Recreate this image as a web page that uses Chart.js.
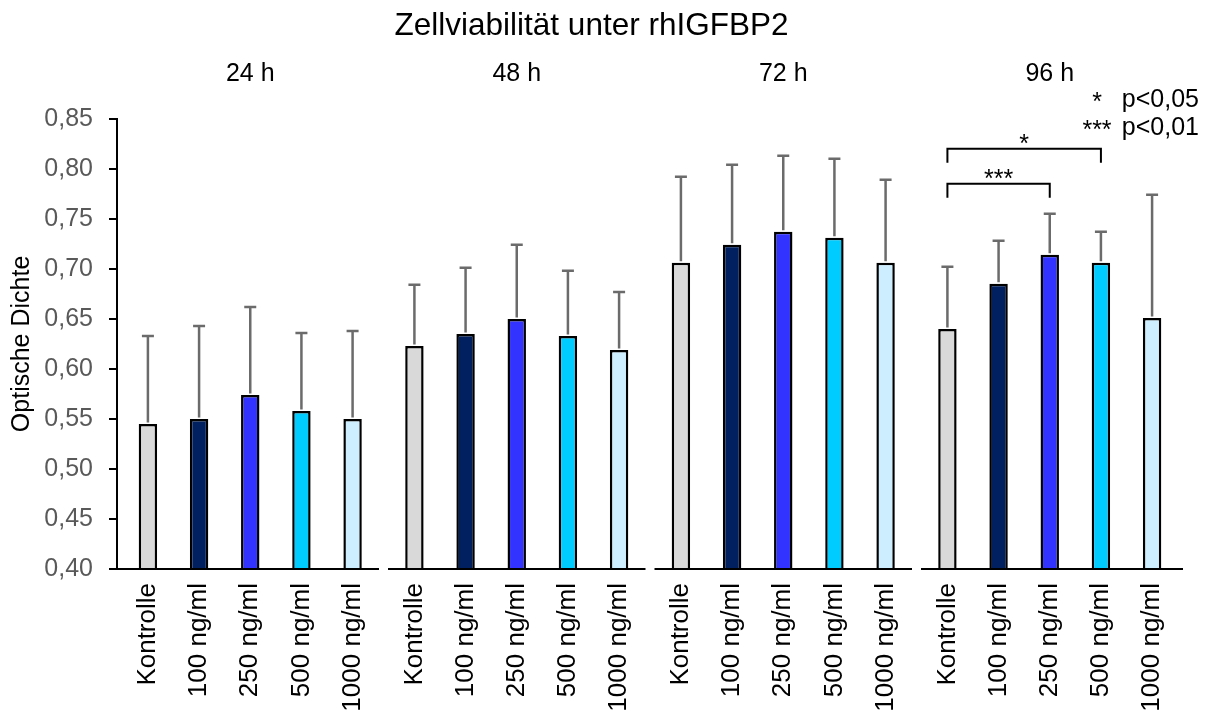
<!DOCTYPE html>
<html lang="de">
<head>
<meta charset="utf-8">
<title>Zellviabilität unter rhIGFBP2</title>
<script src="https://cdn.jsdelivr.net/npm/chart.js@4.4.1/dist/chart.umd.min.js"></script>
<style>
    html, body { margin: 0; padding: 0; background: #fff; }
    #wrap { position: relative; width: 1211px; height: 713px; }
</style>
</head>
<body>
<div id="wrap"><canvas id="viability"></canvas></div>
<script>
const timePoints = ['24 h', '48 h', '72 h', '96 h'];
const treatments = ['Kontrolle', '100 ng/ml', '250 ng/ml', '500 ng/ml', '1000 ng/ml'];
const treatmentColors = ['#d9d9d9', '#002060', '#3333ff', '#00ccff', '#cceeff'];

// mean optical density per treatment, one value per time point
const kontrolle = [0.545, 0.623, 0.706, 0.640];
const ng100 = [0.550, 0.635, 0.724, 0.685];
const ng250 = [0.574, 0.650, 0.737, 0.714];
const ng500 = [0.558, 0.633, 0.731, 0.706];
const ng1000 = [0.550, 0.619, 0.706, 0.651];

// standard deviation, drawn as upper whisker only
const sdKontrolle = [0.088, 0.061, 0.086, 0.062];
const sd100 = [0.093, 0.066, 0.080, 0.043];
const sd250 = [0.088, 0.074, 0.076, 0.041];
const sd500 = [0.078, 0.065, 0.079, 0.031];
const sd1000 = [0.088, 0.058, 0.083, 0.123];

const yMin = 0.40;
const yMax = 0.85;
const yStep = 0.05;

// significance brackets (all at 96 h): from treatment, to treatment, stars, height
const sigFrom = [0, 0];
const sigTo = [3, 2];
const sigStars = ['*', '***'];
const sigLevel = [0.820, 0.785];
const sigTime = 3;

const legendStars = ['*', '***'];
const legendText = ['p<0,05', 'p<0,01'];

const FONT = '"Liberation Sans", Arial, sans-serif';
const means = [kontrolle, ng100, ng250, ng500, ng1000];
const sds = [sdKontrolle, sd100, sd250, sd500, sd1000];

/**
 * Draws whiskers, the broken category axis, bar labels, brackets and the p legend.
 */
const decorations = {
    id: 'decorations',
    afterDatasetsDraw(chart) {
        const ctx = chart.ctx;
        const area = chart.chartArea;
        const xs = chart.scales.x;
        const ys = chart.scales.y;
        ctx.save();

        // upper error whiskers
        ctx.strokeStyle = '#6b6b6b';
        ctx.lineWidth = 2.5;
        chart.data.datasets.forEach((ds, di) => {
            chart.getDatasetMeta(di).data.forEach((bar, i) => {
                const top = ys.getPixelForValue(ds.data[i] + ds.sd[i]);
                ctx.beginPath();
                ctx.moveTo(bar.x, bar.y - 1.5);
                ctx.lineTo(bar.x, top);
                ctx.moveTo(bar.x - 6, top);
                ctx.lineTo(bar.x + 6, top);
                ctx.stroke();
            });
        });

        // x axis line, interrupted between the time points
        const slot = xs.getPixelForValue(1) - xs.getPixelForValue(0);
        const gap = 4.5;
        ctx.strokeStyle = '#000';
        ctx.lineWidth = 2;
        timePoints.forEach((t, i) => {
            const c = xs.getPixelForValue(i);
            const from = i === 0 ? area.left : c - slot / 2 + gap;
            const to = i === timePoints.length - 1 ? area.right : c + slot / 2 - gap;
            ctx.beginPath();
            ctx.moveTo(from, area.bottom);
            ctx.lineTo(to, area.bottom);
            ctx.stroke();
        });

        // treatment labels under every bar, rotated
        ctx.fillStyle = '#000';
        ctx.font = '26px ' + FONT;
        ctx.textAlign = 'right';
        ctx.textBaseline = 'middle';
        chart.data.datasets.forEach((ds, di) => {
            chart.getDatasetMeta(di).data.forEach((bar) => {
                ctx.save();
                ctx.translate(bar.x, area.bottom + 14);
                ctx.rotate(-Math.PI / 2);
                ctx.fillText(ds.label, 0, 0);
                ctx.restore();
            });
        });

        // significance brackets
        ctx.textAlign = 'center';
        ctx.textBaseline = 'alphabetic';
        ctx.font = '25px ' + FONT;
        sigFrom.forEach((f, k) => {
            const x1 = chart.getDatasetMeta(f).data[sigTime].x;
            const x2 = chart.getDatasetMeta(sigTo[k]).data[sigTime].x;
            const yl = ys.getPixelForValue(sigLevel[k]);
            ctx.beginPath();
            ctx.moveTo(x1, yl + 14);
            ctx.lineTo(x1, yl);
            ctx.lineTo(x2, yl);
            ctx.lineTo(x2, yl + 14);
            ctx.stroke();
            ctx.fillText(sigStars[k], (x1 + x2) / 2, yl + 3);
        });

        // p value legend, top right
        const right = chart.width - 12;
        legendText.forEach((txt, k) => {
            const base = 107 + k * 28;
            ctx.textAlign = 'right';
            ctx.fillText(txt, right, base);
            ctx.textAlign = 'center';
            ctx.fillText(legendStars[k], right - 102, base + 3);
        });

        ctx.restore();
    }
};

new Chart(document.getElementById('viability'), {
    type: 'bar',
    data: {
        labels: timePoints,
        datasets: treatments.map((t, i) => ({
            label: t,
            data: means[i],
            sd: sds[i],
            base: yMin,
            backgroundColor: treatmentColors[i],
            borderColor: '#000',
            borderWidth: 2.5,
            borderSkipped: 'start',
            categoryPercentage: 0.96,
            barPercentage: 0.36
        }))
    },
    options: {
        responsive: true,
        maintainAspectRatio: false,
        animation: false,
        layout: {
            padding: { left: 0, right: 28, top: 0, bottom: 144 }
        },
        plugins: {
            legend: { display: false },
            tooltip: { enabled: false },
            title: {
                display: true,
                text: 'Zellviabilität unter rhIGFBP2',
                color: '#000',
                font: { family: FONT, size: 31.5, weight: 'normal' },
                padding: { top: 7, bottom: 0 }
            }
        },
        scales: {
            x: {
                position: 'top',
                grid: { display: false },
                border: { display: false },
                ticks: {
                    color: '#000',
                    font: { family: FONT, size: 25 },
                    padding: 22,
                    maxRotation: 0
                },
                afterFit(scale) {
                    scale.height = 74;
                }
            },
            y: {
                min: yMin,
                max: yMax,
                grid: {
                    drawOnChartArea: false,
                    color: '#000',
                    lineWidth: 2,
                    tickLength: 8
                },
                border: { display: true, color: '#000', width: 2 },
                ticks: {
                    stepSize: yStep,
                    color: '#595959',
                    padding: 16,
                    font: { family: FONT, size: 25 },
                    callback: (v) => v.toFixed(2).replace('.', ',')
                },
                title: {
                    display: true,
                    text: 'Optische Dichte',
                    color: '#000',
                    font: { family: FONT, size: 25 },
                    padding: { top: 7, bottom: 0 }
                },
                afterFit(scale) {
                    scale.width = 117;
                }
            }
        }
    },
    plugins: [decorations]
});
</script>
</body>
</html>
